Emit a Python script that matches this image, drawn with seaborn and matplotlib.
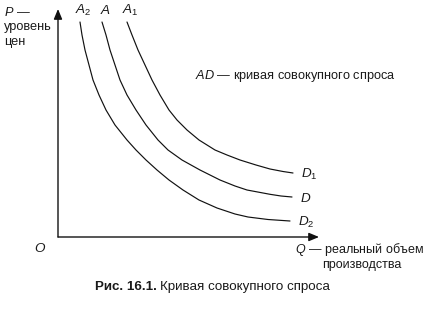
import matplotlib
matplotlib.use("Agg")
import matplotlib.pyplot as plt
import seaborn as sns
import pandas as pd

# Curves (Q = output, P = price level), arbitrary units
a2_q = [22, 24, 27, 31, 35, 41, 48, 57, 69, 78, 88, 99, 111, 125, 141, 159, 177, 190, 210, 232]
a2_p = [215, 202, 187, 172, 157, 142, 127, 112, 97, 87, 77, 67, 57, 47, 37, 29, 23, 20, 17.5, 16]
a_q = [44, 48, 52, 57, 62, 69, 78, 88, 100, 110, 124, 133, 142, 162, 177, 189, 212, 223, 234]
a_p = [215, 202, 187, 172, 157, 142, 127, 112, 97, 87, 77, 72, 67, 57, 51, 47, 42.7, 41, 40]
a1_q = [69, 74, 80, 87, 94, 102, 111, 119, 129, 141, 157, 169, 182, 198, 212, 225, 235]
a1_p = [215, 202, 187, 172, 157, 142, 127, 117, 107, 97, 87, 82, 77, 72, 68, 65.5, 64]

top_labels = [r"$A_{\mathrm{2}}$", r"$A$", r"$A_{\mathrm{1}}$"]
end_labels = [r"$D_{\mathrm{2}}$", r"$D$", r"$D_{\mathrm{1}}$"]
curve_ids = ["A2", "A", "A1"]

y_label_lines = ["уровень", "цен"]
x_label_lines = ["реальный объем", "производства"]
legend_text = "кривая совокупного спроса"
caption_bold = "Рис. 16.1."
caption_text = "Кривая совокупного спроса"

sns.set_style("white")
plt.rcParams["font.family"] = ["Liberation Sans", "DejaVu Sans"]
plt.rcParams["mathtext.fontset"] = "custom"
plt.rcParams["mathtext.it"] = "Liberation Sans:italic"
plt.rcParams["mathtext.rm"] = "Liberation Sans"

rows = []
for cid, qs, ps in zip(curve_ids, [a2_q, a_q, a1_q], [a2_p, a_p, a1_p]):
    for q, p in zip(qs, ps):
        rows.append({"curve": cid, "Q": q, "P": p})
df = pd.DataFrame(rows)

fig = plt.figure(figsize=(4.32, 3.12), dpi=100)
ax = fig.add_axes([0, 0, 1, 1])
ax.set_xlim(-58, 374)
ax.set_ylim(-75, 237)
ax.axis("off")

sns.lineplot(data=df, x="Q", y="P", hue="curve", hue_order=curve_ids,
             palette=["#111111"] * 3, linewidth=0.85, legend=False, sort=False, ax=ax)

# axes with arrows
arrow = dict(arrowstyle="-|>,head_length=0.6,head_width=0.25", color="#111111",
             lw=1.0, shrinkA=0, shrinkB=0)
ax.annotate("", xy=(0, 228), xytext=(0, 0), arrowprops=arrow)
ax.annotate("", xy=(261, 0), xytext=(0, 0), arrowprops=arrow)

fs = 9.2
col = "#1a1a1a"
for qs, ps, tl, el in zip([a2_q, a_q, a1_q], [a2_p, a_p, a1_p], top_labels, end_labels):
    ax.text(qs[0] + 3, ps[0] + 12, tl, fontsize=fs + 0.5, ha="center", va="center", color=col)
    ax.text(qs[-1] + 8, ps[-1] - 1, el, fontsize=fs + 0.5, ha="left", va="center", color=col)

ax.text(-54, 225, r"$P$ —", fontsize=fs, ha="left", va="center", color=col)
ax.text(-54, 210, y_label_lines[0], fontsize=fs, ha="left", va="center", color=col)
ax.text(-54, 195, y_label_lines[1], fontsize=fs, ha="left", va="center", color=col)

ax.text(-18, -11, r"$O$", fontsize=fs + 0.5, ha="center", va="center", color=col)

ax.text(237, -12, r"$Q$ — " + x_label_lines[0], fontsize=9.0, ha="left", va="center", color=col)
ax.text(264, -28, x_label_lines[1], fontsize=9.0, ha="left", va="center", color=col)

ax.text(137, 161, r"$AD$ — " + legend_text, fontsize=fs, ha="left", va="center", color=col)

# caption: bold part then regular part
cfs = 9.6
fig.canvas.draw()
t1 = ax.text(37, -50, caption_bold, fontsize=cfs, fontweight="bold", ha="left",
             va="center", color=col)
fig.canvas.draw()
bb = t1.get_window_extent()
inv = ax.transData.inverted()
x_end = inv.transform((bb.x1, bb.y0))[0]
ax.text(x_end + 3, -50, caption_text, fontsize=cfs, ha="left", va="center", color=col)

fig.savefig("out.png", dpi=100)
